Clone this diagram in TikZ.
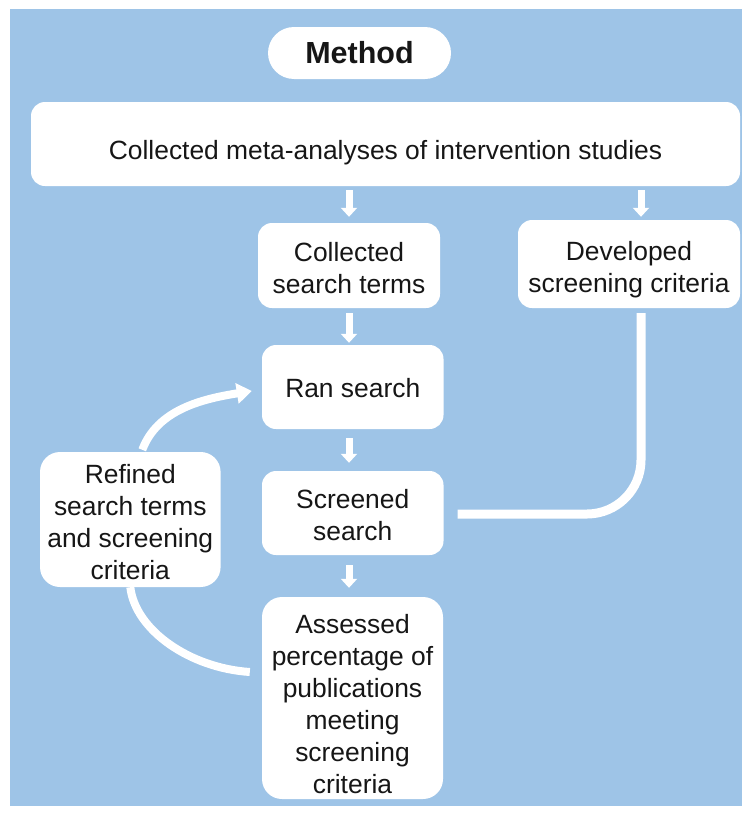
\documentclass[tikz,border=0pt]{standalone}
\usepackage{fontspec}
\setmainfont{Liberation Sans}
\usetikzlibrary{arrows.meta,calc}
\definecolor{panelblue}{RGB}{158,196,231}
\definecolor{inkgray}{RGB}{22,22,22}
\begin{document}
\begin{tikzpicture}[x=1pt,y=-1pt,
  box/.style={fill=white, rounded corners=14pt, inner sep=0pt},
  txt/.style={align=center, inner sep=0pt, text=inkgray,
    font=\fontsize{26.4pt}{32pt}\selectfont},
  link/.style={draw=white, line width=8pt},
  flowarrow/.style={draw=white, line width=7pt, -{Triangle[width=16pt,length=9pt]}}]

% page and blue panel
\fill[white] (0,0) rectangle (744,814);
\useasboundingbox (0,0) rectangle (744,814);
\fill[panelblue] (10,9) rectangle (742,806);

% boxes
\node[box, minimum width=183pt, minimum height=52pt, rounded corners=26pt,
  txt, font=\bfseries\fontsize{30.5pt}{32pt}\selectfont] (method) at (359.5,53) {Method};

\node[box, minimum width=709pt, minimum height=84pt] (top) at (385.5,144) {};
\node[txt] (top-t) at ([yshift=-8.5pt]top.center)
  {Collected meta-analyses of intervention studies};

\node[box, minimum width=182pt, minimum height=85pt] (cst) at (349,265.5) {};
\node[txt] (cst-t) at ([yshift=-3pt]cst.center) {Collected\\search terms};

\node[box, minimum width=222pt, minimum height=88pt] (dev) at (629,264) {};
\node[txt] (dev-t) at ([yshift=-6pt]dev.center) {Developed\\screening criteria};

\node[box, minimum width=181.5pt, minimum height=84pt] (ran) at (352.75,387) {};
\node[txt] (ran-t) at ([yshift=-1pt]ran.center) {Ran search};

\node[box, minimum width=181.5pt, minimum height=84pt] (scr) at (352.75,513) {};
\node[txt] (scr-t) at ([yshift=-2pt]scr.center) {Screened\\search};

\node[box, minimum width=181pt, minimum height=202pt, rounded corners=20pt] (ass) at (352.5,698) {};
\node[txt] (ass-t) at ([yshift=-6pt]ass.center)
  {Assessed\\percentage of\\publications\\meeting\\screening\\criteria};

\node[box, minimum width=180.6pt, minimum height=135pt, rounded corners=20pt] (ref) at (130.3,519.5) {};
\node[txt] (ref-t) at ([yshift=-3pt]ref.center)
  {Refined\\search terms\\and screening\\criteria};

% straight flow arrows
\draw[flowarrow, shorten <=4pt, shorten >=6pt] (top.south -| cst.north) -- (cst.north);
\coordinate (devin) at ([xshift=12pt]dev.north);
\draw[flowarrow, shorten <=4pt, shorten >=3pt] (top.south -| devin) -- (devin);
\draw[flowarrow, shorten <=5pt, shorten >=2pt] (cst.south) -- (cst.south |- ran.north);
\draw[flowarrow, shorten <=9pt, shorten >=8pt] (ran.south -| cst.south) -- (scr.north -| cst.south);
\draw[flowarrow, shorten <=10pt, shorten >=9pt] (scr.south -| cst.south) -- (ass.north -| cst.south);

% screening criteria feed into the screening step
\draw[link, line width=9pt, rounded corners=54pt]
  ([shift={(12,5)}]dev.south) |- ([shift={(14,1)}]scr.east);

% refinement loop
\draw[link] (ref.south) .. controls +(5,43) and +(-60,-4) ..
  ([shift={(-12,-26)}]ass.west);
\draw[link, -{Triangle[width=20pt,length=15pt]}]
  ([shift={(12,-2)}]ref.north) .. controls +(15,-40) and +(-50,8) ..
  ([shift={(-10,4)}]ran.west);
\end{tikzpicture}
\end{document}
